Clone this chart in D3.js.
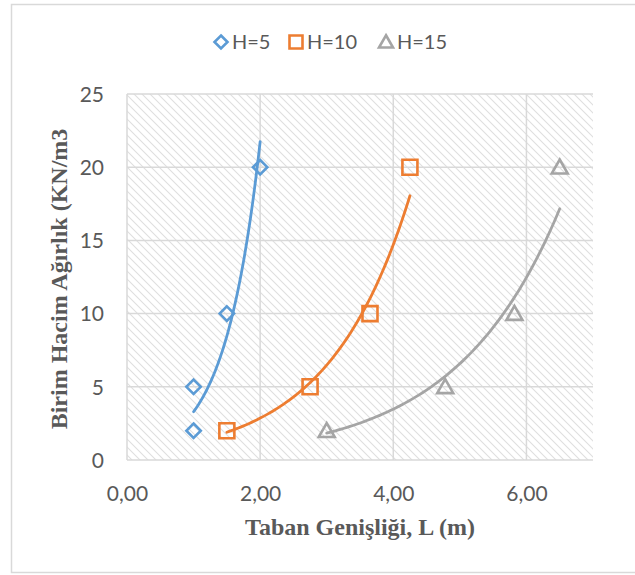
<!DOCTYPE html>
<html>
<head>
<meta charset="utf-8">
<script src="https://cdn.jsdelivr.net/npm/d3@7"></script>
<style>
  html, body { margin: 0; padding: 0; background: #fff; }
  svg { display: block; }
</style>
</head>
<body>
<svg id="chart" width="635" height="575"></svg>
<script>
// ---- data ----
const seriesNames = ["H=5", "H=10", "H=15"];
const xH5  = [1.0, 1.0, 1.5, 2.0];
const yH5  = [2, 5, 10, 20];
const xH10 = [1.5, 2.75, 3.65, 4.25];
const yH10 = [2, 5, 10, 20];
const xH15 = [3.0, 4.78, 5.82, 6.5];
const yH15 = [2, 5, 10, 20];
const xTickValues = [0, 2, 4, 6];
const xTickLabels = ["0,00", "2,00", "4,00", "6,00"];
const yTickValues = [0, 5, 10, 15, 20, 25];
const yTickLabels = ["0", "5", "10", "15", "20", "25"];
const xTitle = "Taban Genişliği, L (m)";
const yTitle = "Birim Hacim Ağırlık (KN/m3";

// ---- styling ----
const colors = ["#5B9BD5", "#ED7D31", "#A5A5A5"];
const shapes = ["diamond", "square", "triangle"];
const tickFont = "Lato, 'Open Sans', sans-serif";
const titleFont = "'Liberation Serif', 'Times New Roman', serif";
const textColor = "#595959";
const gridColor = "#d9d9d9";

const svg = d3.select("#chart");
const M = { left: 127, right: 593, top: 94, bottom: 460 };

const x = d3.scaleLinear().domain([0, 7]).range([M.left, M.right]);
const y = d3.scaleLinear().domain([0, 25]).range([M.bottom, M.top]);

// outer frame
svg.append("rect")
  .attr("x", 11.5).attr("y", 4.5)
  .attr("width", 640).attr("height", 568)
  .attr("fill", "#fff").attr("stroke", gridColor).attr("stroke-width", 1.5);

// hatch pattern
const defs = svg.append("defs");
const pat = defs.append("pattern")
  .attr("id", "hatch").attr("patternUnits", "userSpaceOnUse")
  .attr("width", 8).attr("height", 8);
pat.append("path")
  .attr("d", "M0,0 L8,8 M-2,6 L2,10 M6,-2 L10,2")
  .attr("stroke", "#dfdfdf").attr("stroke-width", 1.1).attr("fill", "none");

svg.append("rect")
  .attr("x", M.left).attr("y", M.top)
  .attr("width", M.right - M.left).attr("height", M.bottom - M.top)
  .attr("fill", "url(#hatch)");

// gridlines
const grid = svg.append("g");
grid.selectAll("line.h").data(yTickValues).join("line")
  .attr("x1", M.left).attr("x2", M.right)
  .attr("y1", d => y(d)).attr("y2", d => y(d))
  .attr("stroke", gridColor).attr("stroke-width", 1.5);
grid.selectAll("line.v").data(xTickValues).join("line")
  .attr("y1", M.top).attr("y2", M.bottom)
  .attr("x1", d => x(d)).attr("x2", d => x(d))
  .attr("stroke", gridColor).attr("stroke-width", 1.5);

// axes (labels only, via d3 axis)
const xAxis = d3.axisBottom(x).tickValues(xTickValues)
  .tickFormat((d, i) => xTickLabels[i]).tickSize(0).tickPadding(0);
const gx = svg.append("g").attr("transform", `translate(0,${M.bottom + 41})`).call(xAxis);
gx.select(".domain").remove();
gx.selectAll("text").attr("dy", 0).attr("y", 0)
  .attr("font-family", tickFont).attr("font-size", 21).attr("fill", textColor);

const yAxis = d3.axisLeft(y).tickValues(yTickValues)
  .tickFormat((d, i) => yTickLabels[i]).tickSize(0).tickPadding(0);
const gy = svg.append("g").attr("transform", `translate(${M.left - 23},0)`).call(yAxis);
gy.select(".domain").remove();
gy.selectAll("text").attr("dy", "0.35em")
  .attr("font-family", tickFont).attr("font-size", 21).attr("fill", textColor);

// axis titles
svg.append("text")
  .attr("x", (M.left + M.right) / 2).attr("y", 535)
  .attr("text-anchor", "middle")
  .attr("font-family", titleFont).attr("font-weight", "bold")
  .attr("font-size", 24).attr("fill", textColor)
  .text(xTitle);
svg.append("text")
  .attr("transform", `translate(67,${(M.top + M.bottom) / 2 + 2}) rotate(-90)`)
  .attr("text-anchor", "middle")
  .attr("font-family", titleFont).attr("font-weight", "bold")
  .attr("font-size", 24).attr("fill", textColor)
  .text(yTitle);

// marker path generator
function markerPath(shape, cx, cy, r) {
  if (shape === "diamond") {
    return `M${cx},${cy - r}L${cx + r},${cy}L${cx},${cy + r}L${cx - r},${cy}Z`;
  } else if (shape === "square") {
    return `M${cx - r},${cy - r}H${cx + r}V${cy + r}H${cx - r}Z`;
  } else {
    const h = r * 1.75;
    return `M${cx},${cy - h * 0.55}L${cx + r},${cy + h * 0.45}L${cx - r},${cy + h * 0.45}Z`;
  }
}

const seriesX = [xH5, xH10, xH15];
const seriesY = [yH5, yH10, yH15];
const markerR = [7.2, 7.5, 8];

// exponential trendline fit (least squares on ln y)
function expFit(xs, ys) {
  const n = xs.length;
  const ly = ys.map(v => Math.log(v));
  const mx = d3.mean(xs), my = d3.mean(ly);
  let sxy = 0, sxx = 0;
  for (let i = 0; i < n; i++) { sxy += (xs[i] - mx) * (ly[i] - my); sxx += (xs[i] - mx) ** 2; }
  const b = sxy / sxx;
  const a = Math.exp(my - b * mx);
  return { a, b };
}

const line = d3.line().x(d => x(d[0])).y(d => y(d[1]));

seriesNames.forEach((name, si) => {
  const xs = seriesX[si], ys = seriesY[si];
  const g = svg.append("g");
  g.selectAll("path.m").data(xs.map((v, i) => [v, ys[i]])).join("path")
    .attr("d", d => markerPath(shapes[si], x(d[0]), y(d[1]), markerR[si]))
    .attr("fill", "none").attr("stroke", colors[si]).attr("stroke-width", 2.6);
  const { a, b } = expFit(xs, ys);
  const [x0, x1] = d3.extent(xs);
  const pts = d3.range(0, 81).map(k => {
    const xv = x0 + (x1 - x0) * k / 80;
    return [xv, a * Math.exp(b * xv)];
  });
  g.append("path").datum(pts).attr("d", line)
    .attr("fill", "none").attr("stroke", colors[si]).attr("stroke-width", 2.8)
    .attr("stroke-linecap", "round");
});

// legend
const legendX = [221, 296, 386];
const legend = svg.append("g");
seriesNames.forEach((name, si) => {
  legend.append("path")
    .attr("d", markerPath(shapes[si], legendX[si], 42, si === 2 ? 7 : 6.5))
    .attr("fill", "none").attr("stroke", colors[si]).attr("stroke-width", 2.6);
  legend.append("text")
    .attr("x", legendX[si] + 11).attr("y", 42).attr("dy", "0.35em")
    .attr("font-family", tickFont).attr("font-size", 20).attr("fill", textColor)
    .text(name);
});
</script>
</body>
</html>
